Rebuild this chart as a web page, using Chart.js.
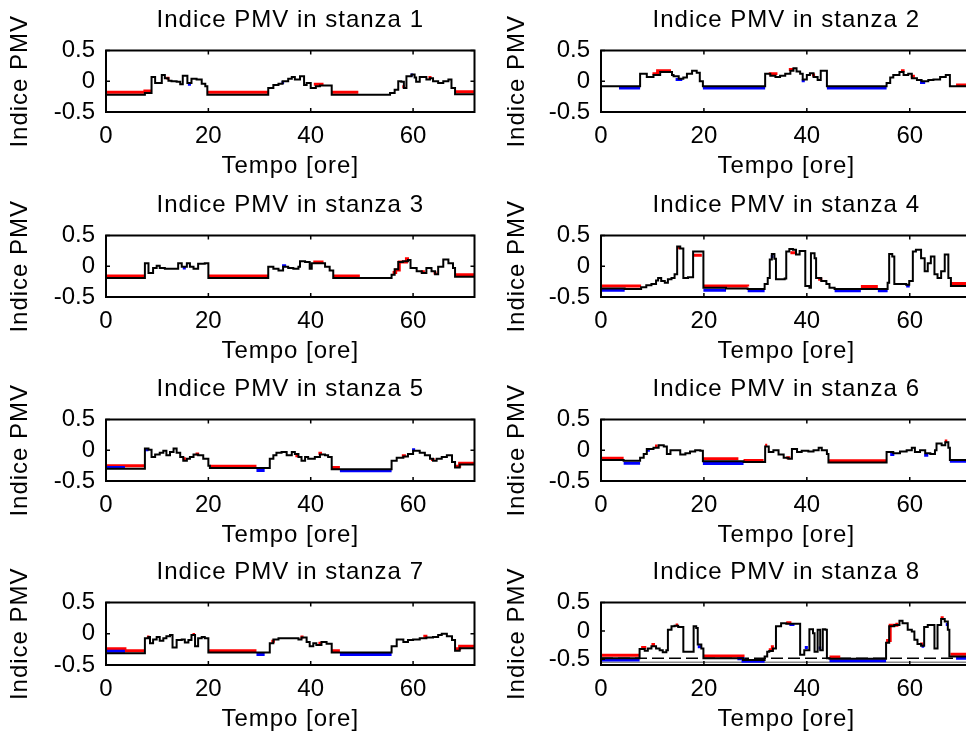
<!DOCTYPE html>
<html>
<head>
<meta charset="utf-8">
<title>Indice PMV</title>
<script src="https://cdn.jsdelivr.net/npm/chart.js@4.4.1/dist/chart.umd.min.js"></script>
<style>
  html, body { margin: 0; padding: 0; background: #fff; overflow: hidden; }
  body { width: 966px; height: 737px; position: relative; }
  canvas { position: absolute; }
</style>
</head>
<body>
<canvas id="c1" width="483" height="182" style="left:0px;top:0px"></canvas>
<canvas id="c2" width="483" height="182" style="left:497px;top:0px"></canvas>
<canvas id="c3" width="483" height="182" style="left:0px;top:185px"></canvas>
<canvas id="c4" width="483" height="182" style="left:497px;top:185px"></canvas>
<canvas id="c5" width="483" height="182" style="left:0px;top:369px"></canvas>
<canvas id="c6" width="483" height="182" style="left:497px;top:369px"></canvas>
<canvas id="c7" width="483" height="183" style="left:0px;top:552px"></canvas>
<canvas id="c8" width="483" height="183" style="left:497px;top:552px"></canvas>
<script>
// tick e limiti
const tempoTicks = [0, 20, 40, 60];
const pmvTicks = [-0.5, 0, 0.5];
const tempoMax = 72;
const pmvMin = [-0.5, -0.5, -0.5, -0.5, -0.5, -0.5, -0.5, -0.6];
const pmvMax = [0.5, 0.5, 0.5, 0.5, 0.5, 0.5, 0.5, 0.5];
const titoli = ['Indice PMV in stanza 1', 'Indice PMV in stanza 2', 'Indice PMV in stanza 3', 'Indice PMV in stanza 4',
                'Indice PMV in stanza 5', 'Indice PMV in stanza 6', 'Indice PMV in stanza 7', 'Indice PMV in stanza 8'];

// [ore, PMV] - nero
const nero1 = [[0,-0.22],[7.6,-0.19],[8.9,0.07],[9.6,-0.03],[10.9,0.1],[11.5,0.05],[12.2,0.01],[12.8,0.0],[13.8,-0.01],[14.5,-0.05],[15.0,0.09],[15.9,-0.03],[16.7,0.04],[17.7,0.03],[18.7,-0.04],[19.4,-0.08],[19.8,-0.22],[31.7,-0.11],[32.7,-0.06],[33.7,-0.04],[34.5,0.0],[35.6,0.04],[36.3,0.07],[36.9,0.03],[37.9,0.08],[38.7,-0.06],[39.2,-0.03],[40.0,-0.11],[41.0,-0.08],[41.8,-0.07],[44.1,-0.22],[55.5,-0.19],[56.4,-0.14],[57.1,0.0],[57.7,-0.01],[58.2,-0.11],[58.7,0.08],[59.7,0.11],[60.3,0.06],[60.6,-0.01],[61.3,0.07],[62.6,0.03],[63.3,0.05],[63.9,0.0],[64.9,-0.03],[65.9,0.0],[66.9,0.03],[67.5,-0.11],[68.2,-0.21],[72,-0.21]];
const nero2 = [[0,-0.08],[7.6,0.12],[8.9,0.07],[10.2,0.1],[11.5,0.15],[13.8,0.1],[14.1,0.08],[15.1,0.04],[16.0,0.06],[16.7,0.12],[17.7,0.17],[18.6,0.14],[19.2,0.0],[19.8,-0.08],[31.9,0.12],[32.9,0.09],[33.9,0.07],[34.8,0.09],[35.8,0.12],[36.8,0.17],[37.4,0.21],[38.0,0.16],[38.7,0.12],[39.2,0.03],[40.0,0.1],[40.6,0.13],[41.3,0.07],[42.1,0.02],[42.7,0.17],[43.9,-0.08],[55.5,-0.03],[56.2,0.06],[56.8,0.1],[58.0,0.15],[58.8,0.1],[59.7,0.12],[60.4,0.05],[61.4,0.02],[62.3,0.0],[63.6,0.02],[64.6,0.03],[65.9,0.07],[67.0,0.1],[67.8,-0.08],[72,-0.08]];
const nero3 = [[0,-0.19],[7.6,0.05],[8.3,-0.11],[9.2,-0.03],[9.9,0.01],[10.5,-0.03],[11.5,-0.04],[14.1,0.05],[14.8,-0.01],[15.8,0.05],[16.4,-0.01],[17.1,-0.04],[18.0,0.04],[19.3,0.05],[20.0,-0.19],[31.7,-0.01],[32.7,-0.04],[33.7,-0.07],[34.6,-0.01],[35.6,-0.03],[36.6,-0.04],[37.6,-0.01],[37.9,0.08],[38.9,0.07],[39.8,-0.04],[40.2,0.05],[42.8,-0.01],[43.7,-0.07],[44.4,-0.19],[55.8,-0.14],[56.4,-0.05],[57.1,0.07],[58.0,0.08],[59.0,0.1],[59.5,-0.03],[60.7,-0.08],[61.7,-0.11],[62.6,-0.03],[63.6,-0.08],[64.3,-0.13],[64.9,-0.01],[65.9,0.11],[66.9,0.05],[67.8,-0.03],[68.2,-0.17],[72,-0.17]];
const nero4 = [[0,-0.36],[4.6,-0.37],[7.8,-0.34],[8.8,-0.31],[9.8,-0.29],[10.7,-0.23],[11.1,-0.19],[11.7,-0.24],[12.4,-0.27],[13.0,-0.21],[13.7,-0.19],[14.3,-0.13],[14.8,0.32],[15.4,0.29],[16.0,-0.19],[16.9,-0.18],[17.9,0.24],[19.9,-0.35],[24.3,-0.36],[28.5,-0.37],[31.8,-0.29],[32.4,-0.19],[32.8,0.11],[33.2,0.2],[33.7,0.12],[34.0,-0.21],[35.7,-0.2],[36.0,0.24],[36.6,0.28],[37.3,0.27],[37.9,0.19],[38.6,0.25],[39.2,0.25],[39.7,-0.32],[40.5,-0.35],[40.8,0.21],[41.5,0.13],[41.8,-0.19],[42.8,-0.24],[43.8,-0.29],[44.4,-0.35],[45.4,-0.37],[55.7,-0.27],[56.0,0.2],[56.6,0.16],[57.0,-0.29],[59.3,-0.3],[59.9,-0.24],[60.6,0.24],[61.2,0.27],[62.2,0.13],[62.9,-0.08],[63.5,0.05],[64.1,0.16],[64.8,-0.13],[65.4,-0.19],[66.1,-0.08],[66.8,0.19],[67.5,-0.19],[68.0,-0.32],[72,-0.32]];
const nero5 = [[0,-0.3],[7.6,0.03],[8.3,0.01],[8.9,-0.11],[9.6,-0.07],[10.5,-0.04],[11.2,-0.01],[11.8,-0.08],[12.5,-0.03],[13.2,0.03],[13.8,-0.04],[14.5,-0.11],[15.1,-0.17],[15.8,-0.14],[16.4,-0.11],[17.1,-0.07],[18.0,-0.08],[19.0,-0.14],[20.0,-0.25],[20.3,-0.29],[32.0,-0.14],[32.7,-0.08],[33.3,-0.04],[34.3,-0.03],[35.3,-0.08],[36.3,-0.03],[36.9,-0.06],[37.6,-0.11],[38.2,-0.17],[38.9,-0.11],[39.5,-0.14],[40.8,-0.11],[41.8,-0.07],[42.8,-0.08],[43.4,-0.11],[44.1,-0.31],[55.8,-0.17],[56.8,-0.12],[58.1,-0.1],[59.0,-0.06],[60.0,-0.01],[61.3,-0.04],[62.3,-0.08],[63.3,-0.14],[63.9,-0.17],[64.6,-0.14],[65.6,-0.11],[66.6,-0.08],[67.6,-0.19],[68.2,-0.28],[69.1,-0.23],[72,-0.23]];
const nero6 = [[0,-0.16],[4.4,-0.17],[7.6,-0.12],[8.3,-0.06],[8.9,0.02],[10.2,0.04],[11.2,0.08],[12.2,0.06],[12.8,-0.06],[13.5,0.0],[14.8,0.0],[15.4,-0.07],[16.4,-0.05],[17.3,-0.02],[18.3,0.0],[19.3,-0.01],[19.8,-0.18],[27.7,-0.19],[31.9,0.06],[32.6,-0.03],[33.5,0.0],[34.5,-0.07],[35.5,-0.12],[36.4,-0.14],[37.1,0.02],[38.1,-0.03],[39.0,-0.01],[40.3,-0.02],[41.3,0.0],[42.3,0.04],[42.9,0.0],[43.9,-0.06],[44.2,-0.2],[55.5,-0.03],[56.8,-0.05],[58.1,-0.02],[59.4,0.0],[60.4,0.04],[61.0,-0.03],[62.0,0.0],[63.0,-0.05],[64.0,-0.06],[64.9,0.0],[65.2,0.11],[66.2,0.08],[66.9,0.13],[67.5,0.04],[67.8,-0.16],[72,-0.16]];
const nero7 = [[0,-0.31],[7.6,-0.07],[8.3,-0.05],[8.6,-0.15],[9.2,-0.09],[9.9,-0.05],[10.5,-0.11],[11.2,-0.07],[11.8,-0.04],[12.5,-0.02],[13.0,-0.22],[13.8,-0.1],[14.8,-0.09],[15.4,-0.14],[16.1,-0.1],[16.7,-0.02],[17.4,-0.2],[18.0,-0.07],[18.7,-0.05],[19.3,-0.07],[20.0,-0.3],[32.0,-0.15],[32.7,-0.09],[33.7,-0.07],[37.6,-0.09],[38.2,-0.06],[39.2,-0.13],[39.8,-0.2],[40.5,-0.15],[41.1,-0.18],[42.1,-0.13],[43.1,-0.16],[44.1,-0.3],[55.8,-0.2],[56.8,-0.09],[58.1,-0.13],[59.0,-0.1],[60.0,-0.09],[61.3,-0.07],[62.6,-0.06],[63.9,-0.05],[64.9,-0.02],[65.6,0.0],[66.6,-0.04],[67.6,-0.1],[68.2,-0.27],[69.1,-0.23],[72,-0.23]];
const nero8 = [[0,-0.48],[7.5,-0.32],[8.5,-0.35],[9.1,-0.31],[9.8,-0.27],[10.7,-0.31],[11.4,-0.34],[12.0,-0.375],[12.7,-0.34],[13.0,0.02],[13.7,0.08],[14.3,0.09],[15.0,0.07],[16.0,-0.365],[17.5,-0.365],[18.0,0.08],[18.5,0.05],[18.8,-0.24],[19.5,-0.31],[19.9,-0.48],[27.6,-0.51],[31.8,-0.45],[32.3,-0.365],[32.7,-0.355],[33.4,-0.31],[34.0,0.08],[35.0,0.135],[36.0,0.125],[38.7,-0.42],[39.5,-0.34],[40.5,0.03],[41.2,-0.04],[41.5,-0.365],[42.1,0.02],[42.6,-0.34],[43.1,0.03],[43.6,0.02],[43.9,-0.48],[44.4,-0.49],[55.4,-0.21],[56.0,0.08],[57.0,0.105],[58.0,0.18],[58.6,0.135],[59.6,0.02],[60.4,-0.01],[60.9,-0.155],[61.5,-0.23],[62.2,-0.26],[62.8,0.07],[63.5,0.105],[64.1,0.105],[64.8,-0.31],[65.4,0.105],[66.1,0.21],[66.8,0.165],[67.4,0.02],[67.7,-0.45],[72,-0.45]];

// rosso (visibile solo dove si discosta dal nero)
const rosso1 = [[0,-0.18],[7.6,-0.16],[8.9,-0.16],[8.9,null],[11.8,0.05],[12.4,0.05],[12.4,null],[19.8,-0.18],[31.7,-0.18],[31.7,null],[40.6,-0.05],[42.5,-0.05],[42.5,null],[44.1,-0.18],[49.3,-0.18],[49.3,null],[57.9,-0.09],[58.4,-0.09],[58.4,null],[63.0,0.06],[63.6,0.06],[63.6,null],[68.2,-0.17],[72,-0.17]];
const rosso2 = [[10.0,0.12],[11.0,0.17],[13.6,0.17],[13.6,null],[32.6,0.12],[34.0,0.1],[34.0,null],[36.5,0.19],[37.5,0.19],[37.5,null],[41.0,0.1],[41.6,0.1],[41.6,null],[58.3,0.17],[59.0,0.17],[59.0,null],[60.2,0.08],[61.0,0.08],[61.0,null],[69.0,-0.06],[72,-0.06]];
const rosso3 = [[0,-0.16],[7.6,-0.16],[7.6,null],[20.0,-0.16],[31.7,-0.16],[31.7,null],[40.5,0.07],[42.5,0.07],[42.5,null],[44.4,-0.16],[49.6,-0.16],[49.6,null],[56.0,-0.1],[56.6,-0.06],[57.3,0.07],[58.7,0.12],[59.2,0.12],[59.2,null],[61.5,-0.09],[62.3,-0.09],[62.3,null],[64.0,-0.11],[64.6,-0.11],[64.6,null],[68.2,-0.14],[72,-0.14]];
const rosso4 = [[0,-0.32],[7.8,-0.32],[7.8,null],[14.8,0.3],[15.4,0.3],[15.4,null],[18.0,0.18],[19.6,0.18],[19.6,null],[19.9,-0.32],[28.5,-0.33],[28.5,null],[36.8,0.22],[38.0,0.22],[38.0,null],[42.2,-0.21],[43.0,-0.21],[43.0,null],[50.5,-0.33],[53.8,-0.33],[53.8,null],[68.0,-0.28],[72,-0.28]];
const rosso5 = [[0,-0.25],[7.6,-0.25],[7.6,null],[15.0,-0.14],[15.6,-0.14],[15.6,null],[17.5,-0.06],[18.2,-0.06],[18.2,null],[20.3,-0.26],[29.4,-0.26],[29.4,null],[37.0,-0.09],[37.6,-0.09],[37.6,null],[41.5,-0.05],[42.2,-0.05],[42.2,null],[44.1,-0.28],[45.7,-0.28],[45.7,null],[57.8,-0.09],[58.6,-0.09],[58.6,null],[63.5,-0.15],[64.2,-0.15],[64.2,null],[68.0,-0.26],[69.1,-0.21],[72,-0.21]];
const rosso6 = [[0,-0.13],[4.4,-0.13],[4.4,null],[10.5,0.07],[11.0,0.07],[11.0,null],[19.8,-0.14],[26.7,-0.14],[26.7,null],[27.7,-0.165],[31.6,-0.165],[31.6,null],[31.9,0.08],[32.3,0.08],[32.3,null],[36.0,-0.12],[36.8,-0.12],[36.8,null],[44.2,-0.17],[55.5,-0.17],[55.5,null],[66.8,0.15],[67.3,0.15],[67.3,null]];
const rosso7 = [[0,-0.24],[3.7,-0.27],[7.6,-0.27],[7.6,null],[8.0,-0.05],[8.5,-0.05],[8.5,null],[16.9,-0.01],[17.4,-0.01],[17.4,null],[20.0,-0.27],[29.4,-0.27],[29.4,null],[32.3,-0.12],[33.0,-0.12],[33.0,null],[38.0,-0.05],[38.6,-0.05],[38.6,null],[41.5,-0.15],[42.0,-0.15],[42.0,null],[44.1,-0.27],[45.7,-0.27],[45.7,null],[62.0,-0.04],[62.8,-0.04],[62.8,null],[68.2,-0.24],[69.1,-0.2],[72,-0.2]];
const rosso8 = [[0,-0.43],[7.5,-0.43],[7.5,null],[7.8,-0.29],[8.8,-0.29],[8.8,null],[9.8,-0.24],[10.5,-0.24],[10.5,null],[14.5,0.105],[15.0,0.105],[15.0,null],[19.9,-0.44],[27.6,-0.46],[27.6,null],[32.6,-0.33],[33.3,-0.28],[33.6,-0.28],[33.6,null],[36.0,0.145],[37.0,0.145],[37.0,null],[44.4,-0.46],[46.5,-0.46],[46.5,null],[55.4,-0.17],[56.2,0.1],[57.5,0.145],[57.5,null],[62.0,-0.23],[62.6,-0.23],[62.6,null],[66.0,0.23],[66.6,0.23],[66.6,null],[67.9,-0.41],[72,-0.41]];

// blu
const blu1 = [[16.0,-0.05],[16.6,-0.05],[16.6,null],[34.3,-0.02],[34.8,-0.02],[34.8,null],[59.5,0.1],[60.0,0.1]];
const blu2 = [[3.5,-0.11],[7.6,-0.11],[7.6,null],[14.5,0.03],[15.8,0.03],[15.8,null],[19.8,-0.11],[31.9,-0.11],[31.9,null],[39.0,0.01],[39.6,0.01],[39.6,null],[43.9,-0.11],[55.5,-0.11],[55.5,null],[62.0,-0.02],[63.0,-0.02]];
const blu3 = [[15.0,-0.03],[15.6,-0.03],[15.6,null],[34.4,0.01],[35.2,0.01]];
const blu4 = [[0,-0.39],[4.6,-0.39],[4.6,null],[19.9,-0.39],[24.3,-0.39],[24.3,null],[28.5,-0.4],[31.8,-0.4],[31.8,null],[33.0,0.16],[33.5,0.16],[33.5,null],[45.4,-0.4],[50.5,-0.4],[50.5,null],[53.8,-0.4],[55.7,-0.4],[55.7,null],[59.3,-0.32],[60.0,-0.32]];
const blu5 = [[0,-0.28],[3.7,-0.28],[3.7,null],[7.6,0.01],[8.3,0.01],[8.3,null],[29.4,-0.33],[31.0,-0.33],[31.0,null],[45.7,-0.335],[55.8,-0.335],[55.8,null],[59.8,0.01],[60.4,0.01]];
const blu6 = [[4.4,-0.21],[7.6,-0.21],[7.6,null],[8.9,0.0],[9.5,0.0],[9.5,null],[19.8,-0.215],[27.7,-0.215],[27.7,null],[56.2,-0.07],[57.0,-0.07],[57.0,null],[62.8,-0.08],[63.6,-0.08],[63.6,null],[67.8,-0.18],[72,-0.18]];
const blu7 = [[0,-0.28],[3.7,-0.28],[3.7,null],[29.4,-0.33],[31.0,-0.33],[31.0,null],[45.7,-0.33],[55.8,-0.33]];
const blu8 = [[0,-0.51],[7.5,-0.51],[7.5,null],[18.8,-0.28],[19.6,-0.28],[19.6,null],[26.5,-0.49],[27.6,-0.535],[31.8,-0.535],[31.8,null],[36.6,0.115],[37.6,0.115],[37.6,null],[39.6,-0.29],[40.2,-0.29],[40.2,null],[42.3,-0.3],[42.8,-0.3],[42.8,null],[44.4,-0.525],[55.4,-0.525],[55.4,null],[62.3,-0.27],[62.8,-0.27],[62.8,null],[67.0,0.115],[67.5,0.115],[67.5,null],[69.0,-0.48],[72,-0.48]];

// stanza 8: soglie
const soglia8 = [[0,-0.48],[72,-0.48]];
const fondo8 = [[0,-0.55],[72,-0.55]];

const neri = [nero1, nero2, nero3, nero4, nero5, nero6, nero7, nero8];
const rossi = [rosso1, rosso2, rosso3, rosso4, rosso5, rosso6, rosso7, rosso8];
const blus = [blu1, blu2, blu3, blu4, blu5, blu6, blu7, blu8];

const FONT = "'Liberation Sans', Arial, Helvetica, sans-serif";
const asseY = [106, 104, 106, 104, 106, 104, 106, 104];

// titoli con spaziatura, etichette dei tick senza
const spaziatura = {
  id: 'spaziatura',
  beforeDraw(chart) { chart.ctx.letterSpacing = '1px'; },
  beforeDatasetsDraw(chart) { chart.ctx.letterSpacing = '0px'; }
};

// riquadro e tick interni stile MATLAB
const riquadro = {
  id: 'riquadro',
  afterDatasetsDraw(chart) {
    const { ctx, chartArea: a, scales: { x, y } } = chart;
    ctx.save();
    ctx.strokeStyle = '#000';
    ctx.lineWidth = 2;
    ctx.strokeRect(a.left, a.top, a.right - a.left, a.bottom - a.top);
    ctx.lineWidth = 1.5;
    ctx.beginPath();
    x.ticks.forEach(t => {
      const px = x.getPixelForValue(t.value);
      ctx.moveTo(px, a.top); ctx.lineTo(px, a.top + 4);
      ctx.moveTo(px, a.bottom); ctx.lineTo(px, a.bottom - 4);
    });
    y.ticks.forEach(t => {
      const py = y.getPixelForValue(t.value);
      ctx.moveTo(a.left, py); ctx.lineTo(a.left + 4, py);
      ctx.moveTo(a.right, py); ctx.lineTo(a.right - 4, py);
    });
    ctx.stroke();
    ctx.restore();
  }
};

function linea(data, color, width, extra) {
  return Object.assign({
    data: data,
    borderColor: color,
    backgroundColor: color,
    borderWidth: width,
    stepped: 'before',
    pointRadius: 0,
    pointHoverRadius: 0,
    fill: false,
    spanGaps: false
  }, extra || {});
}

for (let i = 0; i < 8; i++) {
  const datasets = [
    linea(neri[i], '#000000', 2),
    linea(blus[i], '#0000ff', 3),
    linea(rossi[i], '#ff0000', 3)
  ];
  if (i === 7) {
    datasets.push(linea(soglia8, '#000000', 1.5, { borderDash: [12, 5] }));
    datasets.push(linea(fondo8, '#8a8a8a', 1.5));
  }
  new Chart(document.getElementById('c' + (i + 1)), {
    type: 'line',
    data: { datasets },
    plugins: [spaziatura, riquadro],
    options: {
      responsive: false,
      animation: false,
      devicePixelRatio: 1,
      events: [],
      layout: { padding: { left: 0, right: 8.5, top: 0, bottom: 0 } },
      plugins: {
        legend: { display: false },
        tooltip: { enabled: false },
        title: {
          display: true,
          text: titoli[i],
          fullSize: false,
          color: '#000',
          font: { family: FONT, size: 24, weight: 'normal' },
          padding: { top: 6, bottom: 15.7 }
        }
      },
      scales: {
        x: {
          type: 'linear',
          min: 0,
          max: tempoMax,
          grid: { display: false, drawTicks: false },
          border: { display: false },
          ticks: { color: '#000', font: { family: FONT, size: 24 }, padding: 10, z: 1, maxRotation: 0, autoSkip: false, callback: v => String(v) },
          title: { display: true, text: 'Tempo [ore]', color: '#000', font: { family: FONT, size: 24 }, padding: { top: 0, bottom: 1 } },
          afterBuildTicks: s => { s.ticks = tempoTicks.map(v => ({ value: v })); },
          afterFit: s => { s.height = 70; }
        },
        y: {
          type: 'linear',
          min: pmvMin[i],
          max: pmvMax[i],
          grid: { display: false, drawTicks: false },
          border: { display: false },
          ticks: { color: '#000', font: { family: FONT, size: 24 }, padding: 11, z: 1, autoSkip: false, callback: v => String(v) },
          title: { display: true, text: 'Indice PMV', color: '#000', font: { family: FONT, size: 24 }, padding: { top: 5.6, bottom: 0 } },
          afterBuildTicks: s => { s.ticks = pmvTicks.map(v => ({ value: v })); },
          afterFit: s => { s.width = asseY[i]; }
        }
      }
    }
  });
}
</script>
</body>
</html>
